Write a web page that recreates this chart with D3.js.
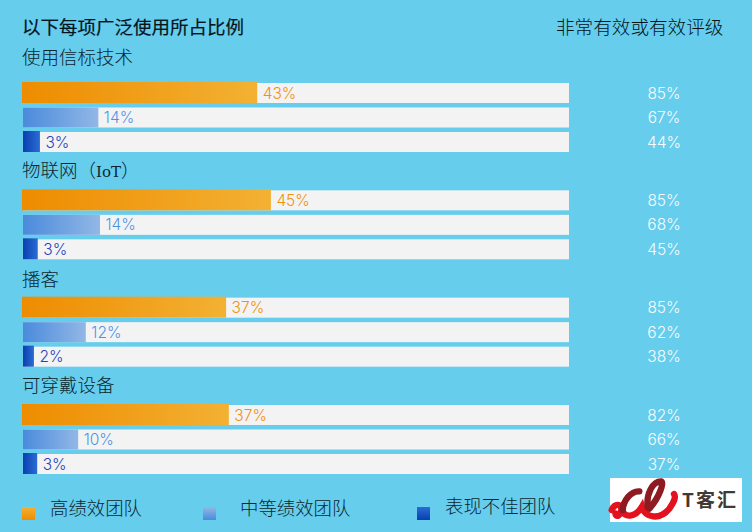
<!DOCTYPE html>
<html>
<head>
<meta charset="utf-8">
<script src="https://cdn.jsdelivr.net/npm/d3@7"></script>
<style>
html, body { margin: 0; padding: 0; background: #66cdec; }
svg { display: block; }
text { font-family: "Noto Sans CJK SC", sans-serif; }
.num { font-family: Inter, "Noto Sans", sans-serif; font-size: 15.5px; font-weight: 300; }
</style>
</head>
<body>
<svg id="chart" width="752" height="532"></svg>
<script>
'use strict';

var topics = ['使用信标技术', '物联网（IoT）', '播客', '可穿戴设备'];
var teams = ['高绩效团队', '中等绩效团队', '表现不佳团队'];

// printed share for each team, per topic
var shareLabels = [
	[43, 14, 3],
	[45, 14, 3],
	[37, 12, 2],
	[37, 10, 3]
];
// bar lengths as they were measured on the picture (they don't quite follow the printed numbers)
var barLengths = [
	[42.9, 13.8, 3.1],
	[45.4, 14.1, 2.7],
	[37.2, 11.5, 2.0],
	[37.7, 10.1, 2.6]
];
var ratings = [
	[85, 67, 44],
	[85, 68, 45],
	[85, 62, 38],
	[82, 66, 37]
];

var barColors = [['#ee8c00', '#f3b133'], ['#4a8bdc', '#92b7e6'], ['#0a3fb0', '#2b6cd4']];
var labelColors = ['#f0920f', '#4f93e4', '#2444bc'];
var headingOffsets = [-19, -13, -12, -13];

var svg = d3.select('#chart');
var defs = svg.append('defs');

function addGradient(id, stops, vertical) {
	var g = defs.append('linearGradient').attr('id', id)
		.attr('x1', 0).attr('y1', vertical ? 1 : 0)
		.attr('x2', vertical ? 0 : 1).attr('y2', 0);
	g.append('stop').attr('offset', '0%').attr('stop-color', stops[0]);
	g.append('stop').attr('offset', '100%').attr('stop-color', stops[1]);
}
barColors.forEach(function (c, i) {
	addGradient('bar' + i, c, false);
	addGradient('key' + i, c, true);
});

var x = d3.scaleLinear().domain([0, 100]).range([23, 569]);
var groupY = d3.scalePoint().domain(d3.range(topics.length)).range([83, 405]);
var teamY = d3.scalePoint().domain(d3.range(teams.length)).range([0, 49]);
var barHeight = 20;

svg.append('text').attr('x', 22).attr('y', 34)
	.attr('font-size', 18.5).attr('fill', '#04141c')
	.attr('stroke', '#04141c').attr('stroke-width', 0.2)
	.text('以下每项广泛使用所占比例');
svg.append('text').attr('x', 556).attr('y', 34)
	.attr('font-size', 18.6).attr('font-weight', 300).attr('fill', '#04141c')
	.text('非常有效或有效评级');

var groups = svg.selectAll('g.topic')
	.data(topics)
	.join('g')
	.attr('class', 'topic')
	.attr('transform', function (d, i) { return 'translate(0,' + groupY(i) + ')'; });

// latin parts of a heading are set in a slab face, as in the original
groups.append('text')
	.attr('x', 22)
	.attr('y', function (d, i) { return headingOffsets[i]; })
	.attr('font-size', 18.5).attr('font-weight', 300).attr('fill', '#0c2630')
	.selectAll('tspan')
	.data(function (d) { return d.match(/[A-Za-z]+|[^A-Za-z]+/g); })
	.join('tspan')
	.attr('font-family', function (d) { return /[A-Za-z]/.test(d) ? '"DejaVu Serif"' : null; })
	.attr('font-size', function (d) { return /[A-Za-z]/.test(d) ? 15 : null; })
	.text(function (d) { return d; });

groups.each(function (topic, t) {
	var rows = d3.select(this).selectAll('g.row')
		.data(d3.range(teams.length))
		.join('g')
		.attr('class', 'row')
		.attr('transform', function (i) { return 'translate(0,' + teamY(i) + ')'; });

	rows.append('rect')
		.attr('x', x(0)).attr('y', 0)
		.attr('width', x(100) - x(0)).attr('height', barHeight)
		.attr('fill', '#f3f3f4');

	rows.append('rect')
		.attr('x', function (i) { return i === 0 ? x(0) - 1 : x(0); })
		.attr('y', function (i) { return i === 1 ? 0 : -1; })
		.attr('width', function (i) { return x(barLengths[t][i]) - x(0) + (i === 0 ? 1 : 0); })
		.attr('height', function (i) { return i === 1 ? barHeight : barHeight + 1; })
		.attr('fill', function (i) { return 'url(#bar' + i + ')'; });

	rows.append('text')
		.attr('class', 'num')
		.attr('x', function (i) { return x(barLengths[t][i]) + 5.5; })
		.attr('y', 15.5)
		.attr('fill', function (i) { return labelColors[i]; })
		.text(function (i) { return shareLabels[t][i] + '%'; });

	rows.append('text')
		.attr('class', 'num')
		.attr('x', 664).attr('y', 15.5)
		.attr('text-anchor', 'middle')
		.attr('fill', '#f7fcff')
		.text(function (i) { return ratings[t][i] + '%'; });
});

// legend
var legendX = d3.scaleOrdinal().domain(teams).range([22, 203, 417]);
var legendGap = [28, 37, 28];
var legend = svg.selectAll('g.key')
	.data(teams)
	.join('g')
	.attr('class', 'key')
	.attr('transform', function (d) { return 'translate(' + legendX(d) + ',507)'; });
legend.append('rect')
	.attr('width', 13).attr('height', 13)
	.attr('fill', function (d, i) { return 'url(#key' + i + ')'; });
legend.append('text')
	.attr('x', function (d, i) { return legendGap[i]; })
	.attr('y', function (d, i) { return i === 2 ? 6 : 8; })
	.attr('font-size', 18.4).attr('font-weight', 300).attr('fill', '#0c2630')
	.text(function (d) { return d; });

// watermark logo in the bottom corner
var logo = svg.append('g').attr('transform', 'translate(610,478)');
logo.append('rect').attr('width', 132).attr('height', 44).attr('fill', '#fff');
var ribbon = logo.append('g')
	.attr('transform', 'translate(-4,-4) scale(0.3333)')
	.attr('fill', 'none').attr('stroke-linecap', 'round').attr('stroke-width', 19);
ribbon.append('path')
	.attr('d', 'M17 108 C26 88 46 88 46 106 C46 126 28 132 28 118 M50 108 C52 132 88 132 108 98 C118 132 160 140 190 104 C205 84 210 68 204 60')
	.attr('stroke', '#e3121e');
ribbon.append('path')
	.attr('d', 'M50 108 C52 80 75 50 100 52 M125 100 C120 60 140 22 165 22 C176 24 160 70 130 104')
	.attr('stroke', '#8e1a22');
logo.append('text')
	.attr('x', 72).attr('y', 29)
	.attr('font-size', 19).attr('font-weight', 700).attr('letter-spacing', 2).attr('fill', '#3f3a34')
	.text('T客汇');
</script>
</body>
</html>
